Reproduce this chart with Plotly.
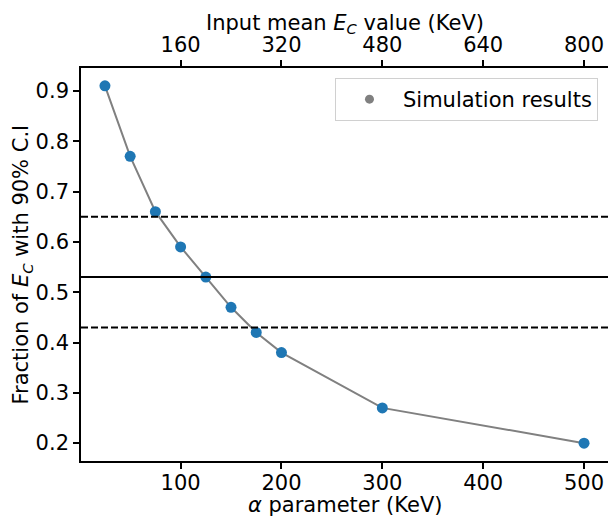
import plotly.graph_objects as go

alpha = [25, 50, 75, 100, 125, 150, 175, 200, 300, 500]
fraction = [0.91, 0.77, 0.66, 0.59, 0.53, 0.47, 0.42, 0.38, 0.27, 0.20]
scale_top = 1.6  # input mean E_C = 1.6 * alpha
top_ticks = [160, 320, 480, 640, 800]
bottom_ticks = [100, 200, 300, 400, 500]
y_ticks = [0.2, 0.3, 0.4, 0.5, 0.6, 0.7, 0.8, 0.9]
hlines_dashed = [0.65, 0.43]
hline_solid = [0.53]

xr = [1.25, 523.75]
yr = [0.1645, 0.9455]

font = dict(family="DejaVu Sans", size=21, color="black")

fig = go.Figure()
fig.add_trace(go.Scatter(x=alpha, y=fraction, mode="lines",
                         line=dict(color="grey", width=2), showlegend=False, hoverinfo="skip"))
fig.add_trace(go.Scatter(x=alpha, y=fraction, mode="markers",
                         marker=dict(color="#1f77b4", size=11), showlegend=False))
fig.add_trace(go.Scatter(x=[None], y=[None], mode="markers", name="Simulation results",
                         marker=dict(color="grey", size=9)))
fig.add_trace(go.Scatter(x=[a * scale_top for a in alpha], y=fraction, xaxis="x2",
                         mode="markers", marker=dict(opacity=0), showlegend=False, hoverinfo="skip"))

for v in hlines_dashed:
    fig.add_shape(type="line", xref="paper", x0=0, x1=1, yref="y", y0=v, y1=v,
                  line=dict(color="black", width=2, dash="7px,3px"))
for v in hline_solid:
    fig.add_shape(type="line", xref="paper", x0=0, x1=1, yref="y", y0=v, y1=v,
                  line=dict(color="black", width=2))

axis_common = dict(showgrid=False, zeroline=False, showline=True, linecolor="black",
                   linewidth=1.6, ticks="outside", ticklen=6, tickwidth=1.6,
                   tickcolor="black", tickfont=font, automargin=False)

fig.update_layout(
    width=608, height=517,
    margin=dict(l=81, r=0, t=68, b=56, autoexpand=False),
    paper_bgcolor="white", plot_bgcolor="white",
    font=font,
    xaxis=dict(range=xr, tickvals=bottom_ticks, ticklabelstandoff=-4, **axis_common),
    xaxis2=dict(range=[xr[0] * scale_top, xr[1] * scale_top], tickvals=top_ticks,
                overlaying="x", side="top", **axis_common),
    yaxis=dict(range=yr, tickvals=y_ticks, tickformat=".1f", **axis_common),
    legend=dict(x=0.981, y=0.9746, xanchor="right", yanchor="top",
                bordercolor="#d0d0d0", borderwidth=1, bgcolor="white",
                font=font, itemwidth=57),
)

fig.add_annotation(text="<i>α</i> parameter (KeV)", xref="paper", yref="paper",
                   x=0.5, y=-0.111, xanchor="center", yanchor="middle",
                   showarrow=False, font=font)
fig.add_annotation(text="Input mean <i>E</i><sub><i>C</i></sub> value (KeV)", xref="paper", yref="paper",
                   x=0.5, y=1.112, xanchor="center", yanchor="middle",
                   showarrow=False, font=font)
fig.add_annotation(text="Fraction of <i>E</i><sub><i>C</i></sub> with 90% C.I", xref="paper", yref="paper",
                   x=-0.112, y=0.5, xanchor="center", yanchor="middle", textangle=-90,
                   showarrow=False, font=font)

fig.write_html("out.html")
